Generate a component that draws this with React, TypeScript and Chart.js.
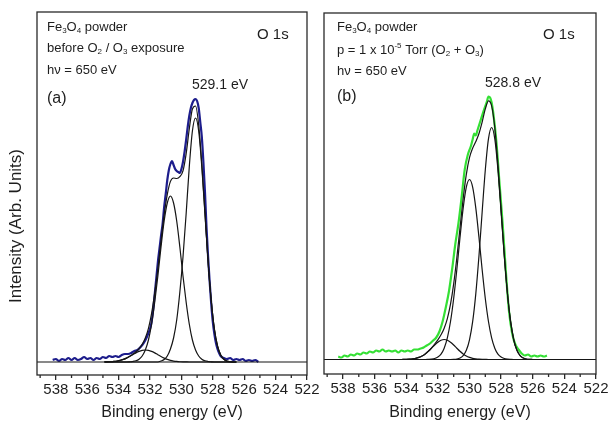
import React, { useEffect, useRef } from 'react';
import { Chart, registerables } from 'chart.js';

Chart.register(...registerables);

const FONT = "'Liberation Sans', Arial, Helvetica, sans-serif";

// ---- axis values ----
const xMin = 522;
const xMax = 539.2;
const majorStep = 2;
const minorTicks = [523, 525, 527, 529, 531, 533, 535, 537, 539];
const baselineE = [539.2, 522];
const baselineI = [0, 0];

// ---- panel (a): before exposure ----
const dataAE = [538.2, 538.0, 537.8, 537.6, 537.4, 537.2, 537.0, 536.8, 536.6, 536.4, 536.2, 536.0, 535.8, 535.6, 535.4, 535.2, 535.0, 534.8, 534.6, 534.4, 534.2, 534.0, 533.8, 533.6, 533.4, 533.2, 533.0, 532.8, 532.6, 532.4, 532.2,
  532.1, 532.0, 531.9, 531.8, 531.7, 531.6, 531.5, 531.4, 531.3, 531.2, 531.1, 531.0, 530.9, 530.8, 530.7, 530.6, 530.5, 530.4, 530.3, 530.2, 530.1, 530.0, 529.9, 529.8, 529.7, 529.6, 529.5, 529.4, 529.3, 529.2, 529.1, 529.0, 528.9, 528.8, 528.7, 528.6, 528.5, 528.4, 528.3, 528.2, 528.1, 528.0, 527.9, 527.8, 527.7, 527.6, 527.5,
  527.3, 527.1, 526.9, 526.7, 526.5, 526.3, 526.1, 525.9, 525.7, 525.5, 525.3, 525.1];
const dataAI = [2, 3, 1, 3, 2, 4, 2, 4, 2, 3, 5, 3, 4, 2, 4, 3, 5, 4, 6, 5, 6, 5, 7, 8, 8, 9, 11, 12, 15, 19, 25,
  29, 33, 40, 52, 68, 84, 100, 113, 126, 138, 155, 168, 182, 192, 198, 201, 197, 193, 191, 190, 189, 193, 200, 210, 222, 235, 246, 254, 259, 262, 263, 261, 254, 240, 225, 200, 170, 134, 105, 80, 58, 40, 28, 19, 13, 9, 6,
  4, 3, 4, 2, 3, 2, 3, 1, 2, 1, 2, 0];

const fitAE = [534.9, 534.7, 534.5, 534.3, 534.1, 533.9, 533.7, 533.5, 533.3, 533.1, 532.9, 532.7, 532.5, 532.3, 532.1, 531.9, 531.7, 531.5, 531.3, 531.1, 530.9, 530.7, 530.5, 530.3, 530.1, 529.9, 529.7, 529.5, 529.3, 529.1, 528.9, 528.7, 528.5, 528.3, 528.1, 527.9, 527.7, 527.5, 527.3, 527.1, 526.9, 526.7, 526.5];
const compA1 = [0, 0, 0, 0, 0, 0, 0, 0, 0, 0, 0, 0, 0, 0, 0, 0, 0, 0, 1, 2.5, 6, 13, 24, 42, 70, 105, 148, 195, 231, 244, 231, 195, 148, 100, 61, 33, 16, 7, 2.7, 0.9, 0.3, 0, 0];
const compA2 = [0, 0, 0, 0, 0, 0, 0, 0, 0.2, 0.5, 1.2, 2.8, 6, 12, 22, 38, 60, 86, 115, 141, 159, 166, 159, 141, 115, 86, 60, 38, 22, 12, 6, 2.8, 1.2, 0.5, 0.2, 0, 0, 0, 0, 0, 0, 0, 0];
const compA3 = [0.06, 0.13, 0.27, 0.53, 0.96, 1.6, 2.6, 3.9, 5.5, 7.3, 9.1, 10.6, 11.6, 12, 11.6, 10.6, 9.1, 7.3, 5.5, 3.9, 2.6, 1.6, 0.96, 0.53, 0.27, 0.13, 0.06, 0, 0, 0, 0, 0, 0, 0, 0, 0, 0, 0, 0, 0, 0, 0, 0];
const envA = [0.06, 0.13, 0.27, 0.53, 0.96, 1.6, 2.6, 3.9, 5.7, 7.8, 10.3, 13.4, 17.6, 24, 33.6, 48.6, 69.1, 93.3, 121.5, 147.4, 167.6, 180.6, 184, 183.5, 185.3, 191.1, 208.1, 233, 253, 256, 237, 197.8, 149.2, 100.5, 61.2, 33, 16, 7, 2.7, 0.9, 0.3, 0, 0];

// ---- panel (b): under O2 + O3 ----
const dataBE = [538.3, 538.1, 537.9, 537.7, 537.5, 537.3, 537.1, 536.9, 536.7, 536.5, 536.3, 536.1, 535.9, 535.7, 535.5, 535.3, 535.1, 534.9, 534.7, 534.5, 534.3, 534.1, 533.9, 533.7, 533.5, 533.3, 533.1, 532.9, 532.7, 532.5, 532.3, 532.1,
  531.9, 531.7, 531.5, 531.3, 531.1, 530.9, 530.7, 530.5, 530.3, 530.1, 529.9, 529.8, 529.7, 529.6, 529.5, 529.3, 529.1, 528.9, 528.8, 528.7, 528.6, 528.5,
  528.3, 528.1, 527.9, 527.7, 527.5, 527.3, 527.1, 526.9, 526.7, 526.5, 526.3, 526.1, 525.9, 525.7, 525.5, 525.3, 525.1];
const dataBI = [3, 2, 4, 3, 5, 4, 6, 5, 7, 6, 8, 7, 9, 8, 10, 8, 9, 8, 9, 7, 9, 8, 9, 8, 10, 10, 11, 12, 14, 16, 19, 22,
  28, 38, 52, 68, 90, 115, 136, 162, 190, 205, 214, 220, 226, 224, 229, 239, 249, 258, 263, 262, 257, 247,
  218, 176, 135, 88, 48, 26, 15, 10, 6, 4, 5, 3, 4, 3, 4, 3, 4];

const fitBE = [534.4, 534.2, 534.0, 533.8, 533.6, 533.4, 533.2, 533.0, 532.8, 532.6, 532.4, 532.2, 532.0, 531.8, 531.6, 531.4, 531.2, 531.0, 530.8, 530.6, 530.4, 530.2, 530.0, 529.8, 529.6, 529.4, 529.2, 529.0, 528.8, 528.6, 528.4, 528.2, 528.0, 527.8, 527.6, 527.4, 527.2, 527.0, 526.8, 526.6, 526.4, 526.2, 526.0];
const compB1 = [0, 0, 0, 0, 0, 0, 0, 0, 0, 0, 0, 0, 0, 0, 0, 0, 0, 0.15, 0.5, 1.5, 3.9, 9.2, 19.7, 37.8, 65.9, 103.7, 147.3, 189.5, 220.6, 232, 220.6, 189.5, 147.3, 103.7, 65.9, 37.8, 19.7, 9.2, 3.9, 1.5, 0.5, 0.15, 0];
const compB2 = [0, 0, 0, 0, 0, 0, 0, 0, 0, 0.15, 0.4, 1.0, 2.4, 5.4, 11.3, 21.6, 38, 61, 90, 122, 151.4, 172.4, 180, 172.4, 151.4, 122, 90, 61, 38, 21.6, 11.3, 5.4, 2.4, 1.0, 0.4, 0.15, 0, 0, 0, 0, 0, 0, 0];
const compB3 = [0, 0.05, 0.1, 0.3, 0.6, 1.1, 2.1, 3.5, 5.6, 8.2, 11.3, 14.5, 17.3, 19.3, 20, 19.3, 17.3, 14.5, 11.3, 8.2, 5.6, 3.5, 2.1, 1.1, 0.6, 0.3, 0.1, 0.05, 0, 0, 0, 0, 0, 0, 0, 0, 0, 0, 0, 0, 0, 0, 0];
const envB = [0, 0.05, 0.1, 0.3, 0.6, 1.1, 2.1, 3.5, 5.6, 8.35, 11.7, 15.5, 19.7, 24.7, 31.3, 40.9, 55.3, 75.65, 101.8, 131.7, 160.9, 185.1, 201.8, 211.3, 217.9, 226, 237.4, 250.55, 258.6, 253.6, 231.9, 194.9, 149.7, 104.7, 66.3, 37.95, 19.7, 9.2, 3.9, 1.5, 0.5, 0.15, 0];

type Seg = [string, 'n' | 'sub' | 'sup'];
type Note = { x: number; y: number; size: number; segs: Seg[] };

const notesA: Note[] = [
  { x: 47, y: 27, size: 13, segs: [['Fe', 'n'], ['3', 'sub'], ['O', 'n'], ['4', 'sub'], [' powder', 'n']] },
  { x: 47, y: 48, size: 13, segs: [['before O', 'n'], ['2', 'sub'], [' / O', 'n'], ['3', 'sub'], [' exposure', 'n']] },
  { x: 47, y: 70, size: 13, segs: [['hν = 650 eV', 'n']] },
  { x: 47, y: 99, size: 16, segs: [['(a)', 'n']] },
  { x: 192, y: 85, size: 14, segs: [['529.1 eV', 'n']] },
  { x: 257, y: 35, size: 15, segs: [['O 1s', 'n']] },
];
const notesB: Note[] = [
  { x: 21, y: 27, size: 13, segs: [['Fe', 'n'], ['3', 'sub'], ['O', 'n'], ['4', 'sub'], [' powder', 'n']] },
  { x: 21, y: 50, size: 13, segs: [['p = 1 x 10', 'n'], ['-5', 'sup'], [' Torr (O', 'n'], ['2', 'sub'], [' + O', 'n'], ['3', 'sub'], [')', 'n']] },
  { x: 21, y: 71, size: 13, segs: [['hν = 650 eV', 'n']] },
  { x: 21, y: 97, size: 16, segs: [['(b)', 'n']] },
  { x: 169, y: 83, size: 14, segs: [['528.8 eV', 'n']] },
  { x: 227, y: 35, size: 15, segs: [['O 1s', 'n']] },
];

const INK = '#1e1e1e';

function drawRich(ctx: CanvasRenderingContext2D, segs: Seg[], x: number, y: number, size: number) {
  let cx = x;
  for (const [t, k] of segs) {
    const s = k === 'n' ? size : Math.round(size * 0.62);
    ctx.font = `${s}px ${FONT}`;
    const dy = k === 'sub' ? size * 0.33 : k === 'sup' ? -size * 0.36 : 0;
    ctx.fillText(t, cx, y + dy);
    cx += ctx.measureText(t).width;
  }
}

type PanelCfg = {
  left: number;
  width: number;
  padTop: number;
  padRight: number;
  yWidth: number;
  xHeight: number;
  yMin: number;
  yMax: number;
  dataE: number[];
  dataI: number[];
  color: string;
  fitE: number[];
  comps: number[][];
  env: number[];
  notes: Note[];
  yTitle: boolean;
};

const pts = (xs: number[], ys: number[]) => xs.map((x, i) => ({ x, y: ys[i] }));

function Panel({ cfg }: { cfg: PanelCfg }) {
  const ref = useRef<HTMLCanvasElement>(null);
  useEffect(() => {
    const canvas = ref.current!;
    const fitStyle = {
      borderColor: '#151515',
      borderWidth: 1.2,
      pointRadius: 0,
      fill: false,
      cubicInterpolationMode: 'monotone' as const,
      order: 1,
    };
    const decor = {
      id: 'decor',
      afterDraw(chart: any) {
        const { ctx, chartArea: a, scales } = chart;
        ctx.save();
        ctx.strokeStyle = '#2a2a2a';
        ctx.lineWidth = 1.3;
        ctx.strokeRect(a.left, a.top, a.right - a.left, a.bottom - a.top);
        ctx.beginPath();
        for (const v of minorTicks) {
          const px = scales.x.getPixelForValue(v);
          ctx.moveTo(px, a.bottom);
          ctx.lineTo(px, a.bottom + 3);
        }
        ctx.stroke();
        ctx.fillStyle = INK;
        ctx.textBaseline = 'middle';
        ctx.textAlign = 'left';
        for (const n of cfg.notes) drawRich(ctx, n.segs, n.x, n.y, n.size);
        if (cfg.yTitle) {
          ctx.save();
          ctx.translate(16, 226);
          ctx.rotate(-Math.PI / 2);
          ctx.textAlign = 'center';
          ctx.font = `17px ${FONT}`;
          ctx.fillText('Intensity (Arb. Units)', 0, 0);
          ctx.restore();
        }
        ctx.restore();
      },
    };
    const chart = new Chart(canvas, {
      type: 'line',
      data: {
        datasets: [
          {
            label: 'baseline',
            data: pts(baselineE, baselineI),
            borderColor: '#151515',
            borderWidth: 1.2,
            pointRadius: 0,
            order: 1,
          },
          { label: 'peak 1', data: pts(cfg.fitE, cfg.comps[0]), ...fitStyle },
          { label: 'peak 2', data: pts(cfg.fitE, cfg.comps[1]), ...fitStyle },
          { label: 'peak 3', data: pts(cfg.fitE, cfg.comps[2]), ...fitStyle },
          { label: 'envelope', data: pts(cfg.fitE, cfg.env), ...fitStyle },
          {
            label: 'data',
            data: pts(cfg.dataE, cfg.dataI),
            borderColor: cfg.color,
            borderWidth: 2.2,
            pointRadius: 0,
            cubicInterpolationMode: 'monotone',
            order: 2,
          },
        ],
      },
      options: {
        responsive: false,
        animation: false,
        devicePixelRatio: 1,
        layout: { padding: { left: 0, right: cfg.padRight, top: cfg.padTop, bottom: 0 } },
        plugins: { legend: { display: false }, tooltip: { enabled: false } },
        scales: {
          x: {
            type: 'linear',
            reverse: true,
            min: xMin,
            max: xMax,
            border: { display: false },
            grid: {
              display: true,
              drawOnChartArea: false,
              drawTicks: true,
              tickLength: 5,
              color: '#2a2a2a',
              lineWidth: 1.3,
            },
            ticks: {
              stepSize: majorStep,
              includeBounds: false,
              autoSkip: false,
              maxRotation: 0,
              padding: 1,
              color: INK,
              font: { family: FONT, size: 15 },
              callback: (v: any) => String(v),
            },
            title: {
              display: true,
              text: 'Binding energy (eV)',
              color: INK,
              font: { family: FONT, size: 16 },
              padding: { top: 0, bottom: 1 },
            },
            afterFit: (s: any) => {
              s.height = cfg.xHeight;
              s.paddingLeft = 0;
              s.paddingRight = 0;
            },
          },
          y: {
            type: 'linear',
            min: cfg.yMin,
            max: cfg.yMax,
            border: { display: false },
            grid: { display: false },
            ticks: { display: false },
            afterFit: (s: any) => {
              s.width = cfg.yWidth;
              s.paddingTop = 0;
              s.paddingBottom = 0;
            },
          },
        },
      },
      plugins: [decor],
    } as any);
    return () => chart.destroy();
  }, [cfg]);
  return (
    <canvas
      ref={ref}
      width={cfg.width}
      height={423}
      style={{ position: 'absolute', left: cfg.left, top: 0, width: cfg.width, height: 423 }}
    />
  );
}

const panelA: PanelCfg = {
  left: 0, width: 330, padTop: 12, padRight: 23, yWidth: 37, xHeight: 48,
  yMin: -13, yMax: 350,
  dataE: dataAE, dataI: dataAI, color: '#1d1d8c',
  fitE: fitAE, comps: [compA1, compA2, compA3], env: envA,
  notes: notesA, yTitle: true,
};
const panelB: PanelCfg = {
  left: 316, width: 292, padTop: 13, padRight: 12, yWidth: 8, xHeight: 49,
  yMin: -14.5, yMax: 346.5,
  dataE: dataBE, dataI: dataBI, color: '#35e035',
  fitE: fitBE, comps: [compB1, compB2, compB3], env: envB,
  notes: notesB, yTitle: false,
};

export default function App() {
  return (
    <div style={{ position: 'absolute', left: 0, top: 0, width: 608, height: 423, background: '#ffffff', overflow: 'hidden' }}>
      <Panel cfg={panelA} />
      <Panel cfg={panelB} />
    </div>
  );
}
